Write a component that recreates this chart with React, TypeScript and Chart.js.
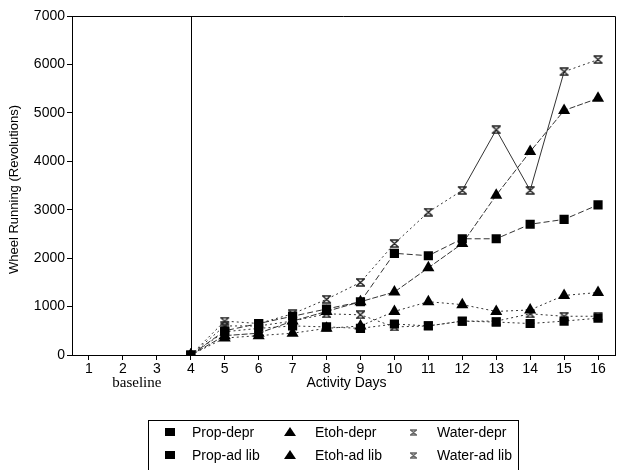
import React, { useEffect, useRef } from 'react';
import { Chart, registerables } from 'chart.js';

Chart.register(...registerables);

const days = ['1', '2', '3', '4', '5', '6', '7', '8', '9', '10', '11', '12', '13', '14', '15', '16'];
const yTicks = [0, 1000, 2000, 3000, 4000, 5000, 6000, 7000];

const propDepr = [null, null, null, 0, 500, 650, 800, 950, 1100, 2100, 2050, 2400, 2400, 2700, 2800, 3100];
const etohDepr = [null, null, null, 0, 400, 450, 700, 900, 1100, 1300, 1800, 2300, 3300, 4200, 5050, 5300];
const waterDepr = [null, null, null, 0, 700, 650, 850, 1150, 1500, 2300, 2950, 3400, 4650, 3400, 5850, 6100];
const propAdLib = [null, null, null, 0, 480, 550, 600, 580, 550, 640, 600, 700, 680, 650, 700, 760];
const etohAdLib = [null, null, null, 0, 350, 400, 450, 550, 600, 900, 1100, 1040, 900, 930, 1230, 1290];
const waterAdLib = [null, null, null, 0, 600, 600, 700, 850, 830, 580, 600, 700, 700, 850, 800, 800];

const seriesNames = ['Prop-depr', 'Etoh-depr', 'Water-depr', 'Prop-ad lib', 'Etoh-ad lib', 'Water-ad lib'];

function makeHourglass(w: number, h: number, color: string) {
  const c = document.createElement('canvas');
  c.width = w;
  c.height = h;
  const g = c.getContext('2d')!;
  g.strokeStyle = color;
  g.lineWidth = 1.3;
  g.beginPath();
  g.moveTo(1, 1);
  g.lineTo(w - 1, 1);
  g.moveTo(1, h - 1);
  g.lineTo(w - 1, h - 1);
  g.moveTo(1.5, 1);
  g.lineTo(w - 1.5, h - 1);
  g.moveTo(w - 1.5, 1);
  g.lineTo(1.5, h - 1);
  g.stroke();
  return c;
}

const FONT = "'Liberation Sans', Arial, sans-serif";

export default function App() {
  const ref = useRef<HTMLCanvasElement | null>(null);

  useEffect(() => {
    if (!ref.current) return;
    const hour = makeHourglass(11, 9, '#222');
    const hourLegend = makeHourglass(9, 7, '#666');

    const decorPlugin = {
      id: 'decor',
      beforeDatasetsDraw(chart: any) {
        const { ctx, chartArea: a, scales } = chart;
        ctx.save();
        ctx.strokeStyle = '#000';
        ctx.lineWidth = 1;
        ctx.beginPath();
        ctx.moveTo(a.left, a.top + 0.5);
        ctx.lineTo(a.right + 0.5, a.top + 0.5);
        ctx.lineTo(a.right + 0.5, a.bottom);
        const vx = Math.round(scales.x.getPixelForValue(3)) + 0.5;
        ctx.moveTo(vx, a.top);
        ctx.lineTo(vx, a.bottom);
        ctx.stroke();
        ctx.restore();
      },
      afterDraw(chart: any) {
        const { ctx, chartArea: a, scales } = chart;
        ctx.save();
        ctx.fillStyle = '#000';
        // y title
        ctx.font = `13px ${FONT}`;
        ctx.textAlign = 'center';
        ctx.textBaseline = 'middle';
        ctx.save();
        ctx.translate(14, (a.top + a.bottom) / 2 + 4);
        ctx.rotate(-Math.PI / 2);
        ctx.fillText('Wheel Running (Revolutions)', 0, 0);
        ctx.restore();
        // x title
        ctx.font = `14px ${FONT}`;
        ctx.fillText('Activity Days', (a.left + a.right) / 2 + 3, a.bottom + 28);
        // baseline
        ctx.font = `15px 'Liberation Serif', 'Times New Roman', serif`;
        const bx = (scales.x.getPixelForValue(1) + scales.x.getPixelForValue(2)) / 2 - 3;
        ctx.fillText('baseline', bx, a.bottom + 28);

        // legend box
        const L = 148, T = 420, W = 370;
        ctx.strokeStyle = '#000';
        ctx.lineWidth = 1;
        ctx.strokeRect(L + 0.5, T + 0.5, W, 80);
        const colMarker = [22, 142, 265];
        const colText = [44, 167, 289];
        const rows = [432, 455];
        ctx.font = `14px ${FONT}`;
        ctx.textAlign = 'left';
        ctx.textBaseline = 'middle';
        for (let i = 0; i < 6; i++) {
          const r = Math.floor(i / 3);
          const c = i % 3;
          const mx = L + colMarker[c];
          const my = rows[r];
          ctx.fillStyle = '#000';
          if (c === 0) {
            ctx.fillRect(mx - 5, my - 4, 10, 8);
          } else if (c === 1) {
            ctx.beginPath();
            ctx.moveTo(mx, my - 5);
            ctx.lineTo(mx + 6, my + 4);
            ctx.lineTo(mx - 6, my + 4);
            ctx.closePath();
            ctx.fill();
          } else {
            ctx.drawImage(hourLegend, mx - 4, my - 3);
          }
          ctx.fillStyle = '#000';
          ctx.fillText(seriesNames[i], L + colText[c], my + 1);
        }
        ctx.restore();
      },
    };

    const base = {
      borderColor: '#333',
      backgroundColor: '#000',
      borderWidth: 1,
      pointBorderColor: '#000',
      pointBackgroundColor: '#000',
      pointBorderWidth: 0,
    };

    const chart = new Chart(ref.current, {
      type: 'line',
      data: {
        labels: days,
        datasets: [
          { ...base, label: seriesNames[0], data: propDepr, pointStyle: 'rect', pointRadius: 6.5, borderDash: [6, 3] },
          { ...base, label: seriesNames[1], data: etohDepr, pointStyle: 'triangle', pointRadius: 7, borderDash: [6, 2] },
          {
            ...base,
            label: seriesNames[2],
            data: waterDepr,
            pointStyle: hour as any,
            borderDash: [2, 3],
            segment: {
              borderDash: (ctx: any) => (ctx.p0DataIndex >= 11 && ctx.p0DataIndex <= 13 ? [] : [2, 3]),
            },
          },
          { ...base, label: seriesNames[3], data: propAdLib, pointStyle: 'rect', pointRadius: 6.5, borderDash: [2, 3] },
          { ...base, label: seriesNames[4], data: etohAdLib, pointStyle: 'triangle', pointRadius: 7, borderDash: [2, 3] },
          { ...base, label: seriesNames[5], data: waterAdLib, pointStyle: hour as any, borderDash: [2, 3] },
        ],
      },
      options: {
        responsive: false,
        animation: false,
        devicePixelRatio: 1,
        layout: { padding: { top: 16, right: 2, left: 0, bottom: 0 } },
        plugins: {
          legend: { display: false },
          tooltip: { enabled: false },
        },
        scales: {
          x: {
            type: 'category',
            offset: true,
            grid: { display: true, drawOnChartArea: false, drawTicks: true, tickLength: 5, color: '#000' },
            border: { display: true, color: '#000', width: 1 },
            ticks: { color: '#000', font: { family: FONT, size: 14 }, padding: 1, maxRotation: 0, autoSkip: false },
            afterFit: (s: any) => {
              s.height = 115;
            },
          },
          y: {
            min: 0,
            max: 7000,
            afterBuildTicks: (s: any) => {
              s.ticks = yTicks.map((v) => ({ value: v }));
            },
            grid: { display: true, drawOnChartArea: false, drawTicks: true, tickLength: 5, color: '#000' },
            border: { display: true, color: '#000', width: 1 },
            ticks: { color: '#000', font: { family: FONT, size: 14 }, padding: 2, callback: (v: any) => String(v) },
            afterFit: (s: any) => {
              s.width = 72;
            },
          },
        },
      },
      plugins: [decorPlugin],
    });
    return () => chart.destroy();
  }, []);

  return (
    <div style={{ position: 'absolute', left: 0, top: 0, width: 622, height: 470, background: '#fff' }}>
      <canvas ref={ref} width={622} height={470} />
    </div>
  );
}
